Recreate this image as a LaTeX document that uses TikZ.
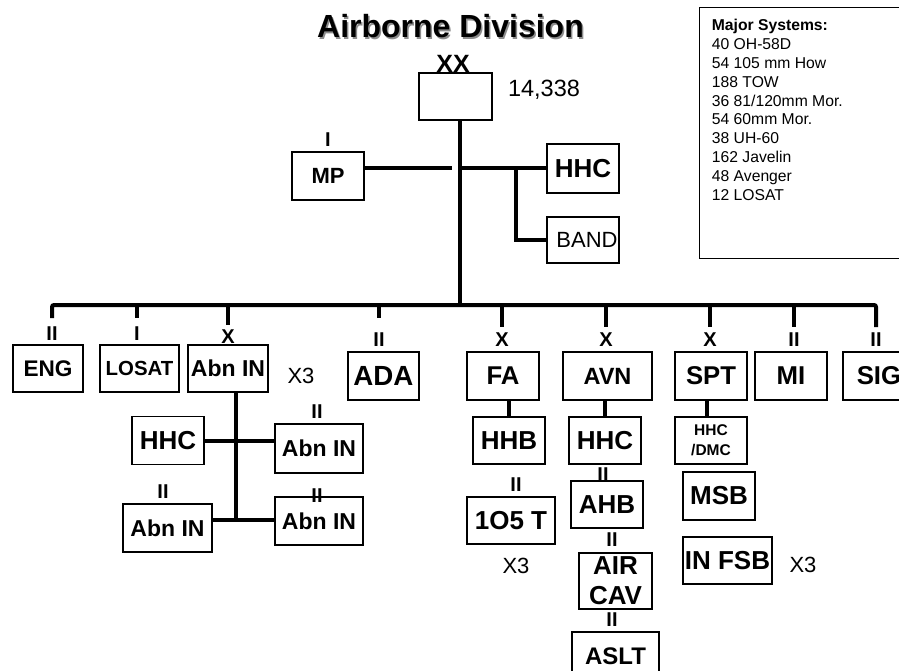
\documentclass[tikz,border=0pt]{standalone}
\usepackage{fontspec}
\setmainfont{Liberation Sans}
\usetikzlibrary{positioning,calc}
\definecolor{shade}{HTML}{8C8C8C}

\begin{document}
\begin{tikzpicture}[x=1pt,y=-1pt,
    unit/.style={draw, line width=1.2pt, inner sep=0pt, minimum width=72pt, minimum height=48pt,
      font=\bfseries\fontsize{#1}{30}\selectfont},
    unit/.default=26,
    echelon/.style={inner sep=0pt, font=\bfseries\fontsize{20}{20}\selectfont},
    note/.style={inner sep=0pt, font=\fontsize{22}{22}\selectfont},
    link/.style={line width=4pt}]
  \useasboundingbox (0,0) rectangle (899,671);

  % title
  \node[inner sep=0pt, text=shade, font=\bfseries\fontsize{32}{32}\selectfont] (titleshade) at (452,28) {Airborne Division};
  \node[inner sep=0pt, font=\bfseries\fontsize{32}{32}\selectfont] (title) at (450.5,26) {Airborne Division};

  % major systems
  \node[draw, line width=1.2pt, anchor=north west, minimum width=230pt, minimum height=251pt] (sysbox) at (699,7) {};
  \node[anchor=north west, inner sep=0pt, align=left, font=\fontsize{15.7}{18.8}\selectfont] (syslist) at (711.7,19.3)
    {\textbf{Major Systems:}\\40 OH-58D\\54 105 mm How\\188 TOW\\36 81/120mm Mor.\\54 60mm Mor.\\38 UH-60\\162 Javelin\\48 Avenger\\12 LOSAT};

  % division and staff
  \node[unit, minimum width=73pt, minimum height=47pt] (div) at (455.5,96.5) {};
  \node[inner sep=0pt, font=\bfseries\fontsize{25}{25}\selectfont] (divm) at (453,64) {XX};
  \node[inner sep=0pt, font=\fontsize{23.5}{23.5}\selectfont] (strength) at (544,90) {14,338};
  \node[unit=22] (mp) at (328,176) {MP};
  \node[echelon] (mpm) at (328,140) {I};
  \node[unit, minimum height=49pt] (hhcd) at (583,168.5) {HHC};
  \node[unit, minimum height=46pt, font=\fontsize{22}{22}\selectfont] (band) at (583,240) {\hspace{8pt}BAND};

  \coordinate (bus) at (460,305);
  \coordinate (mpend) at (452,168);
  \coordinate (bandfork) at (516,168);
  \draw[link] (div.south -| bus) -- (bus);
  \draw[link] (mp.east |- mpend) -- (mpend);
  \draw[link] (hhcd.west -| bus) -- (hhcd.west);
  \draw[link] (bandfork) |- (band.west);

  % separate units
  \node[unit=22.6, minimum width=70pt, minimum height=47pt] (eng) at (48,368.5) {ENG};
  \node[unit=20.4, minimum width=79pt, minimum height=47pt] (losat) at (139.5,368.5) {LOSAT};
  \node[unit=23, minimum width=80pt, minimum height=47pt] (abn) at (228,368.5) {Abn IN};
  \node[unit=27.7, minimum width=71pt] (ada) at (383.5,376) {ADA};
  \node[unit=25.7] (fa) at (503,376) {FA};
  \node[unit=23.5, minimum width=89pt] (avn) at (607.5,376) {AVN};
  \node[unit=25.7] (spt) at (711,376) {SPT};
  \node[unit=25.8] (mi) at (791,376) {MI};
  \node[unit=25.8] (sig) at (879,376) {SIG};

  \node[echelon] (engm) at (52,334) {II};
  \node[echelon] (losatm) at (137,334) {I};
  \node[echelon] (abnm) at (228,337) {X};
  \node[echelon] (adam) at (379,340) {II};
  \node[echelon] (fam) at (502,340) {X};
  \node[echelon] (avnm) at (606,340) {X};
  \node[echelon] (sptm) at (710,340) {X};
  \node[echelon] (mim) at (794,340) {II};
  \node[echelon] (sigm) at (876,340) {II};

  \draw[link, rounded corners=2pt] (engm |- bus) ++(0,13) -- (engm |- bus) -- (sigm |- bus) -- ++(0,22);
  \foreach \m/\d in {losatm/13, abnm/20, adam/13, fam/22, avnm/22, sptm/22, mim/22}
    \draw[link] (\m |- bus) -- ++(0,\d);
  \node[note] (abnx) at (301,376) {X3};

  % infantry brigade
  \coordinate (brig) at (236,520);
  \node[unit] (hhcb) at (168,440.5) {HHC};
  \node[unit=23, minimum width=88pt, minimum height=49pt] (abn1) at (319,448.5) {Abn IN};
  \node[unit=23, minimum width=88pt] (abn2) at (319,521) {Abn IN};
  \node[unit=23, minimum width=89pt] (abn3) at (167.5,528) {Abn IN};
  \node[echelon] (abn1m) at (317,412) {II};
  \node[echelon] (abn2m) at (317,496) {II};
  \node[echelon] (abn3m) at (163,492) {II};
  \draw[link] (abn.south -| brig) -- (brig);
  \draw[link] (hhcb.east) -- (hhcb.east -| abn1.west);
  \draw[link] (abn3.east |- brig) -- (abn2.west |- brig);

  % artillery
  \node[unit, minimum height=47pt] (hhb) at (509,440.5) {HHB};
  \node[unit, minimum width=88pt, minimum height=47pt] (how) at (511,520.5) {1O5 T};
  \node[echelon] (howm) at (516,485) {II};
  \node[note] (howx) at (516,566) {X3};
  \draw[link] (hhb.north |- fa.south) -- (hhb.north);

  % aviation
  \node[unit, minimum height=47pt] (hhca) at (605,440.5) {HHC};
  \node[unit, minimum height=47pt] (ahb) at (607,504.5) {AHB};
  \node[unit, minimum width=73pt, minimum height=56pt, align=center] (cav) at (615.5,581) {AIR\\CAV};
  \node[unit=24, minimum width=87pt] (aslt) at (615.5,656) {ASLT};
  \node[echelon] (ahbm) at (603,475) {II};
  \node[echelon] (cavm) at (612,540) {II};
  \node[echelon] (asltm) at (612,620) {II};
  \draw[link] (hhca.north |- avn.south) -- (hhca.north);

  % support
  \node[unit=15.5, minimum height=47pt, align=center, font=\bfseries\fontsize{15.5}{20}\selectfont] (hhcs) at (711,440.5) {HHC\\/DMC};
  \node[unit] (msb) at (719,496) {MSB};
  \node[unit, minimum width=89pt, minimum height=47pt] (fsb) at (727.5,560.5) {IN FSB};
  \node[note] (fsbx) at (803,565) {X3};
  \draw[link] ([xshift=-4pt]spt.south) -- ([xshift=-4pt]hhcs.north);
\end{tikzpicture}
\end{document}
